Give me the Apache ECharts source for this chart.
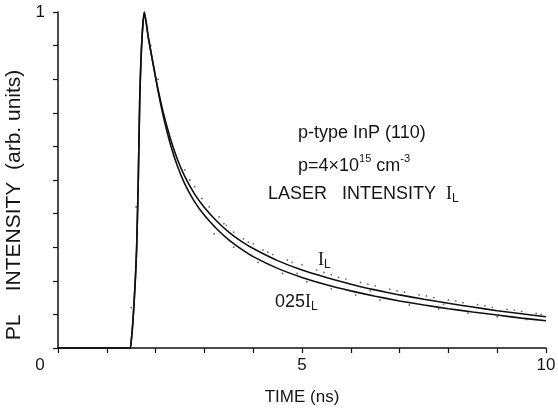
<!DOCTYPE html>
<html>
<head>
<meta charset="utf-8">
<script src="https://cdn.jsdelivr.net/npm/echarts@6/dist/echarts.min.js"></script>
<style>
  html, body { margin: 0; background: #fff; }
  #chart { width: 558px; height: 409px; }
</style>
</head>
<body>
<div id="chart"></div>
<script>
  // time axis (ns) shared by both decay curves
  var time = [0, 1.47, 1.5, 1.54, 1.58, 1.61, 1.645, 1.675, 1.72, 1.77, 1.85, 1.95, 2.05, 2.15, 2.3, 2.45, 2.6, 2.8,
    3.0, 3.25, 3.5, 3.75, 4.0, 4.5, 5.0, 5.5, 6.0, 6.5, 7.0, 7.5, 8.0, 8.5, 9.0, 9.5, 10.0]
  // PL at laser intensity I_L
  var fullIntensity = [0, 0, 0.02, 0.09, 0.19, 0.29, 0.5, 0.74, 0.92, 1.0, 0.925, 0.845, 0.77, 0.705, 0.625, 0.56, 0.51, 0.458,
    0.418, 0.378, 0.345, 0.318, 0.296, 0.26, 0.232, 0.21, 0.19, 0.173, 0.158, 0.145, 0.133, 0.122, 0.111, 0.102, 0.093]
  // PL at 0.25 I_L
  var quarterIntensity = [0, 0, 0.02, 0.09, 0.19, 0.29, 0.5, 0.74, 0.92, 1.0, 0.925, 0.845, 0.765, 0.695, 0.608, 0.54, 0.488, 0.435,
    0.395, 0.355, 0.322, 0.295, 0.272, 0.237, 0.21, 0.188, 0.17, 0.154, 0.14, 0.128, 0.117, 0.107, 0.098, 0.089, 0.081]
  // measured points scattered around the fits
  var dotsT = [1.5, 1.6, 1.66, 1.9, 2.05, 2.6, 2.8, 2.95, 3.1, 3.3, 3.45, 3.6, 3.8, 4.0, 4.2, 4.4, 4.7, 5.0, 5.3, 5.6,
    5.9, 6.2, 6.5, 6.8, 7.1, 7.4, 7.7, 8.0, 8.3, 8.6, 8.9, 9.2, 9.5, 9.8,
    3.2, 3.6, 4.1, 4.6, 5.1, 5.6, 6.1, 6.6, 7.2, 7.8, 8.4, 9.0, 9.6, 4.9, 6.4, 7.9,
    2.7, 3.4, 3.9, 4.3, 4.8, 5.45, 5.75, 6.35, 6.95, 7.55, 8.15, 8.75, 9.35, 9.9]
  var dotsV = [0.12, 0.42, 0.6, 0.9, 0.8, 0.53, 0.48, 0.445, 0.42, 0.39, 0.365, 0.345, 0.325, 0.31, 0.292, 0.278, 0.262, 0.248, 0.232, 0.218,
    0.205, 0.195, 0.185, 0.175, 0.166, 0.158, 0.15, 0.143, 0.135, 0.129, 0.121, 0.115, 0.109, 0.103,
    0.34, 0.3, 0.255, 0.222, 0.197, 0.176, 0.158, 0.143, 0.128, 0.116, 0.104, 0.093, 0.085, 0.222, 0.17, 0.13,
    0.5, 0.37, 0.315, 0.285, 0.255, 0.225, 0.21, 0.19, 0.17, 0.155, 0.14, 0.126, 0.113, 0.1]

  var xTicksShown = [0, 5, 10]
  var textColor = '#151515'

  function pairs (xs, ys) {
    return xs.map(function (x, i) { return [x, ys[i]] })
  }

  var chart = echarts.init(document.getElementById('chart'))
  var option = {
    animation: false,
    backgroundColor: '#fff',
    grid: { left: 58, right: 12, top: 12, bottom: 61, outerBoundsMode: 'none', containLabel: false },
    xAxis: {
      type: 'value',
      min: 0,
      max: 10,
      interval: 1,
      name: 'TIME (ns)',
      nameLocation: 'middle',
      nameGap: 41,
      nameTextStyle: { color: textColor, fontSize: 17, fontFamily: 'Liberation Sans' },
      axisLine: { lineStyle: { color: '#111', width: 1.5 } },
      axisTick: { length: 5, lineStyle: { color: '#111', width: 1.2 } },
      axisLabel: {
        margin: 9,
        color: textColor,
        fontSize: 17,
        fontFamily: 'Liberation Sans',
        formatter: function (v) {
          if (v === 0) return '{o|0}'
          return xTicksShown.indexOf(v) >= 0 ? String(v) : ''
        },
        rich: { o: { fontSize: 17, fontFamily: 'Liberation Sans', color: textColor, padding: [0, 36, 0, 0] } }
      },
      splitLine: { show: false }
    },
    yAxis: {
      type: 'value',
      min: 0,
      max: 1,
      interval: 0.1,
      name: 'PL    INTENSITY  (arb. units)',
      nameLocation: 'middle',
      nameRotate: 90,
      nameGap: 30,
      nameTextStyle: { color: textColor, fontSize: 21, fontFamily: 'Liberation Sans', padding: [0, 50, 0, 0] },
      axisLine: { lineStyle: { color: '#111', width: 1.5 } },
      axisTick: { length: 5, lineStyle: { color: '#111', width: 1.2 } },
      axisLabel: {
        margin: 13,
        color: textColor,
        fontSize: 17,
        fontFamily: 'Liberation Sans',
        formatter: function (v) { return Math.abs(v - 1) < 1e-6 ? '1' : '' }
      },
      splitLine: { show: false }
    },
    series: [
      {
        name: 'dots',
        type: 'scatter',
        symbolSize: 1.8,
        itemStyle: { color: '#444' },
        data: pairs(dotsT, dotsV),
        z: 1
      },
      {
        name: 'I_L',
        type: 'line',
        showSymbol: false,
        smooth: 0.2,
        lineStyle: { color: '#111', width: 1.6 },
        data: pairs(time, fullIntensity),
        z: 3
      },
      {
        name: '0.25 I_L',
        type: 'line',
        showSymbol: false,
        smooth: 0.2,
        lineStyle: { color: '#111', width: 1.6 },
        data: pairs(time, quarterIntensity),
        z: 3
      }
    ],
    graphic: [
      {
        type: 'text', left: 298, top: 124,
        style: { text: 'p-type InP (110)', fill: textColor, font: '18px "Liberation Sans"' }
      },
      {
        type: 'text', left: 298, top: 153,
        style: {
          text: '{n|p=4×10}{s|15}{n| cm}{s|-3}',
          fill: textColor,
          rich: {
            n: { fontSize: 18, fontFamily: 'Liberation Sans', lineHeight: 22, verticalAlign: 'bottom', fill: textColor },
            s: { fontSize: 11, fontFamily: 'Liberation Sans', verticalAlign: 'top', fill: textColor }
          }
        }
      },
      {
        type: 'text', left: 268, top: 185,
        style: {
          text: '{n|LASER   INTENSITY  }{i|I}{b|L}',
          fill: textColor,
          rich: {
            n: { fontSize: 18, fontFamily: 'Liberation Sans', lineHeight: 22, fill: textColor },
            i: { fontSize: 18, fontFamily: 'Liberation Serif', lineHeight: 22, fill: textColor },
            b: { fontSize: 12, fontFamily: 'Liberation Sans', verticalAlign: 'bottom', fill: textColor }
          }
        }
      },
      {
        type: 'text', left: 318, top: 251,
        style: {
          text: '{i|I}{b|L}',
          fill: textColor,
          rich: {
            i: { fontSize: 18, fontFamily: 'Liberation Serif', lineHeight: 22, fill: textColor },
            b: { fontSize: 12, fontFamily: 'Liberation Sans', verticalAlign: 'bottom', fill: textColor }
          }
        }
      },
      {
        type: 'text', left: 275, top: 293,
        style: {
          text: '{n|025}{i|I}{b|L}',
          fill: textColor,
          rich: {
            n: { fontSize: 18, fontFamily: 'Liberation Sans', lineHeight: 22, fill: textColor },
            i: { fontSize: 18, fontFamily: 'Liberation Serif', lineHeight: 22, fill: textColor },
            b: { fontSize: 12, fontFamily: 'Liberation Sans', verticalAlign: 'bottom', fill: textColor }
          }
        }
      }
    ]
  }
  chart.setOption(option)
  window.addEventListener('resize', function () {
    chart.resize()
  })
</script>
</body>
</html>
